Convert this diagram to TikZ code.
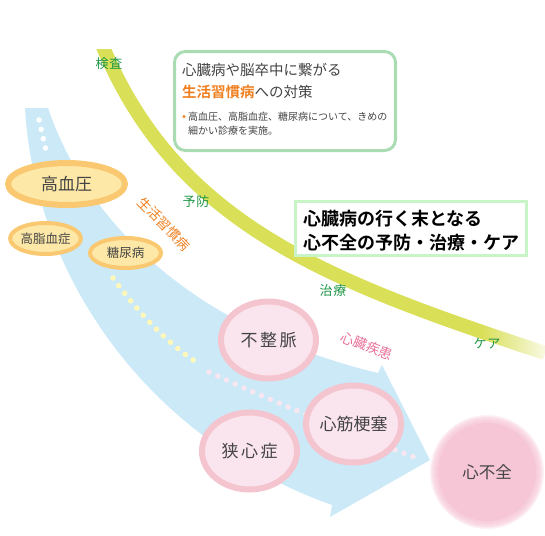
\documentclass[tikz,border=0pt]{standalone}
\usepackage{fontspec}
\setmainfont{Noto Sans CJK JP}[BoldFont={Noto Sans CJK JP Bold}]
\usetikzlibrary{shapes,calc,fadings,scopes}

\definecolor{bandgreen}{RGB}{217,224,88}
\definecolor{flowblue}{RGB}{204,233,248}
\definecolor{riskfill}{RGB}{253,232,168}
\definecolor{riskline}{RGB}{249,200,112}
\definecolor{heartfill}{RGB}{250,228,238}
\definecolor{heartline}{RGB}{244,196,207}
\definecolor{failpink}{RGB}{246,198,214}
\definecolor{stagetext}{RGB}{30,150,70}
\definecolor{lifeorange}{RGB}{240,128,32}
\definecolor{diseasepink}{RGB}{232,112,154}
\definecolor{boxgreen}{RGB}{170,220,180}
\definecolor{titlegreen}{RGB}{200,244,200}
\definecolor{darktext}{RGB}{68,68,68}
\definecolor{dotyellow}{RGB}{255,248,184}
\definecolor{dotpink}{RGB}{248,230,240}

\tikzfading[name=fade in right, left color=transparent!100, right color=transparent!0]

\newcommand{\fs}[1]{\fontsize{#1}{#1}\selectfont}

\tikzset{
  risk/.style={ellipse, draw=riskline, fill=riskfill, inner sep=0pt, text=darktext},
  heart/.style={ellipse, draw=heartline, fill=heartfill, line width=6pt,
    minimum width=95pt, minimum height=77pt, inner xsep=-8pt, inner ysep=0pt,
    text=darktext, font=\fs{17}},
  stage/.style={text=stagetext, font=\fs{13}, inner sep=0pt},
  boxline/.style={anchor=west, inner sep=0pt, text=darktext},
  dotline/.style={line width=5.5pt, line cap=round, dash pattern=on 0pt off 9.6pt},
}

\begin{document}
\begin{tikzpicture}[x=1pt,y=-1pt]
    \useasboundingbox (0,0) rectangle (545,535);

    % the flow of diseases
    \fill[flowblue] (25,108) -- (48,108) .. controls (90,230) and (200,330) .. (378,373)
        -- (382,365) -- (430,460) -- (330,517) -- (332,505)
        .. controls (150,440) and (35,280) .. (25,108) -- cycle;

    % stages band
    \begin{scope}
        \clip (0,50) rectangle (545,535);
        \draw[bandgreen, line width=14pt] (101,42) .. controls (175,225) and (330,282) .. (545,353);
    \end{scope}
    \fill[white, path fading=fade in right] (482,322) rectangle (558,380);

    % dots
    \coordinate (dotA) at (39,120);
    \coordinate (dotB) at (46,150);
    \coordinate (dotC) at (113,278);
    \coordinate (dotD) at (201,365);
    \coordinate (dotE) at (209,372);
    \coordinate (dotF) at (414,457);
    \draw[dotline, white] (dotA) -- (dotB);
    \draw[dotline, dotyellow] (dotC) .. controls (138,312) and (168,345) .. (dotD);
    \draw[dotline, dotpink] (dotE) .. controls (260,396) and (330,425) .. (dotF);

    % risk factors
    \node[risk, line width=6pt, minimum width=117pt, minimum height=42pt, font=\fs{17}] (hbp) at (66.5,184) {高血圧};
    \node[risk, line width=4pt, minimum width=70pt, minimum height=31pt, font=\fs{12.5}] (hl) at (45.5,238.5) {高脂血症};
    \node[risk, line width=4pt, minimum width=71pt, minimum height=30pt, font=\fs{12.5}] (dm) at (125.5,253) {糖尿病};

    % heart diseases
    \node[heart] (arr) at (268.5,340) {不\hspace{2.5pt}整\hspace{2.5pt}脈};
    \node[heart] (ang) at (249.5,451) {狭\hspace{2.5pt}心\hspace{2.5pt}症};
    \node[heart] (mi) at (353.5,424) {心筋梗塞};

    % heart failure
    \foreach \r in {57,56,...,50}
        \fill[failpink, opacity=0.22] (487,472) circle (\r);
    \node[circle, fill=failpink, minimum size=98pt, inner sep=0pt, text=darktext, font=\fs{16.5}] (hf) at (487,472) {心不全};

    % labels
    \node[stage] (kensa) at (109,64) {検\hspace{1pt}査};
    \node[stage] (yobo) at (196,202) {予\hspace{1pt}防};
    \node[stage] (chiryo) at (333,291) {治\hspace{1pt}療};
    \node[stage] (care) at (487,344) {ケ\hspace{1pt}ア};
    \node[text=lifeorange, rotate=-46, font=\fs{13.5}, inner sep=0pt] (life) at (164,224) {生活習慣病};
    \node[text=diseasepink, rotate=-21, font=\fs{13.5}, inner sep=0pt] (heartdis) at (367,346) {心臓疾患};

    % info box
    \draw[boxgreen, line width=3pt, rounded corners=11pt, fill=white] (174.5,51.5) rectangle (395.5,150.5);
    \node[boxline, font=\fs{14.5}] (infoA) at (182,70) {心臓病や脳卒中に繋がる};
    \node[boxline, font=\fs{14.5}] (infoB) at (182,92.5) {\textcolor{lifeorange}{\bfseries 生活習慣病}への対策};
    \fill[lifeorange] (184,116.5) circle (1.6);
    \node[boxline, font=\fs{10}] (infoC) at (188,117) {高血圧、高脂血症、糖尿病について、きめの};
    \node[boxline, font=\fs{10}] (infoD) at (188,131) {細かい診療を実施。};

    % title box
    \draw[titlegreen, line width=3pt, fill=white] (295.5,201.5) rectangle (526.5,255.5);
    \node[boxline, text=black, font=\bfseries\fs{18}] (titleA) at (303,218.5) {心臓病の行く末となる};
    \node[boxline, text=black, font=\bfseries\fs{18}] (titleB) at (303,243) {心不全の予防・治療・ケア};
\end{tikzpicture}
\end{document}
